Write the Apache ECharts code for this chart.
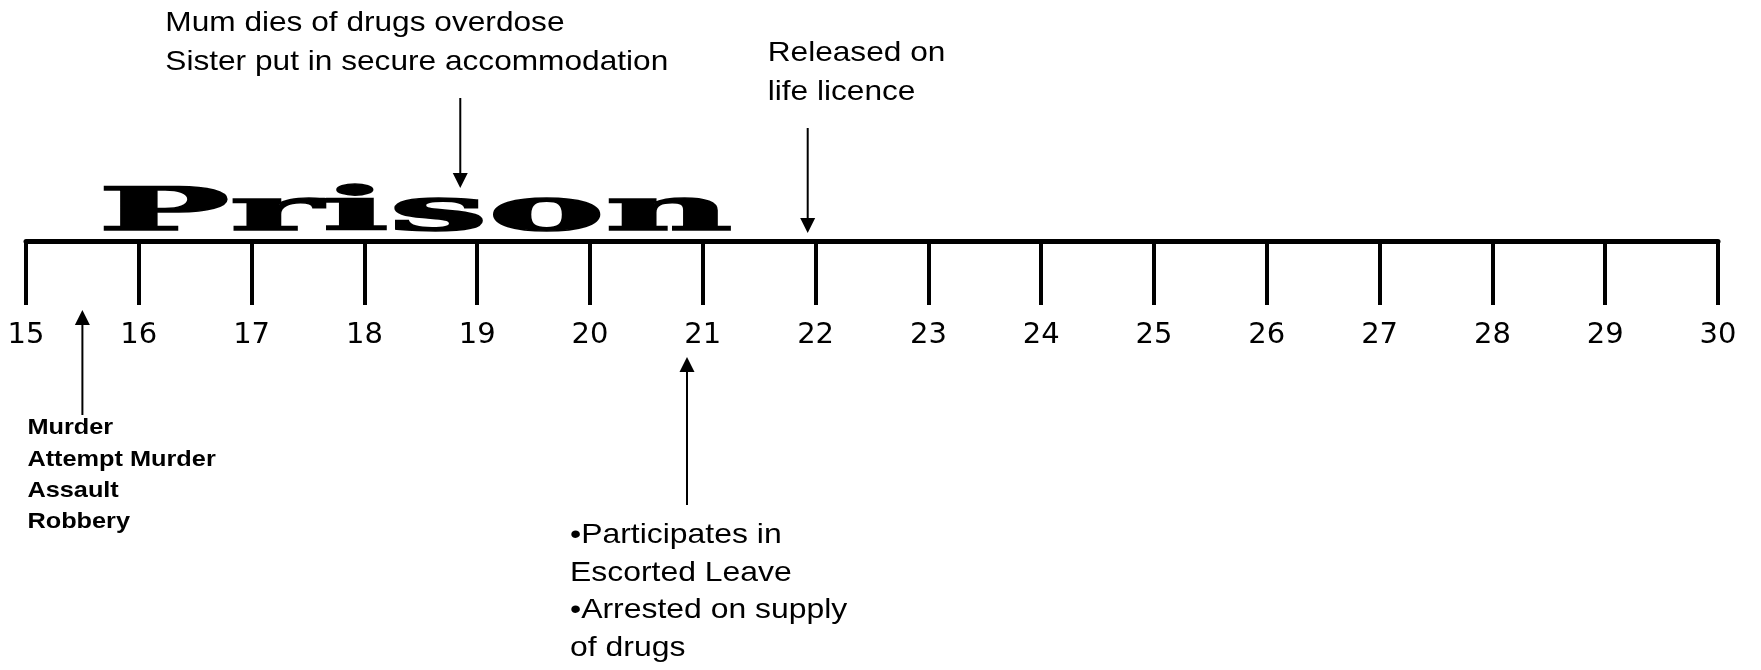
<!DOCTYPE html>
<html>
<head>
<meta charset="utf-8">
<script src="https://cdn.jsdelivr.net/npm/echarts@6/dist/echarts.min.js"></script>
<style>
html,body{margin:0;padding:0;background:#fff;}
#chart{width:1761px;height:670px;}
</style>
</head>
<body>
<div id="chart"></div>
<script>
// ---- data ----
const ageMin = 15;
const ageMax = 30;
const ageStep = 1;
const eventAges = [15.5, 18.85, 20.86, 21.93];
const eventLabels = [
  'Murder\nAttempt Murder\nAssault\nRobbery',
  'Mum dies of drugs overdose\nSister put in secure accommodation',
  '\u2022Participates in\nEscorted Leave\n\u2022Arrested on supply\nof drugs',
  'Released on\nlife licence'
];
const prisonPeriod = [15.5, 21.93];
const prisonLabel = 'Prison';

// ---- layout / style (pixel offsets relative to the axis line) ----
const eventLayout = [
  {dir: 'up',   tip: 69,  tail: 174,  dx: -55,  dy: 171.6,  size: 22, weight: 'bold',   lh: 31.3, sx: 1.15},
  {dir: 'down', tip: -53, tail: -143, dx: -295, dy: -237.3, size: 28, weight: 'normal', lh: 39,   sx: 1.13},
  {dir: 'up',   tip: 116, tail: 264,  dx: -117, dy: 275.3,  size: 28, weight: 'normal', lh: 37.7, sx: 1.14},
  {dir: 'down', tip: -8,  tail: -113, dx: -40,  dy: -207.3, size: 28, weight: 'normal', lh: 39,   sx: 1.13}
];
const prisonFont = {size: 59, family: '"DejaVu Serif"', weight: 'bold', insetLeft: 15.3, insetRight: 75, dy: -26};

function measure(text, font) {
  const c = document.createElement('canvas').getContext('2d');
  c.font = font;
  return c.measureText(text).width;
}
const prisonNatural = measure(prisonLabel, prisonFont.weight + ' ' + prisonFont.size + 'px ' + prisonFont.family);

const chart = echarts.init(document.getElementById('chart'));
chart.setOption({
  backgroundColor: '#fff',
  animation: false,
  grid: {left: 26, right: 43, top: 40, bottom: 429},
  xAxis: {
    type: 'value', min: ageMin, max: ageMax, interval: ageStep,
    position: 'bottom',
    axisLine: {show: true, lineStyle: {color: '#000', width: 5}},
    axisTick: {show: true, length: 64, lineStyle: {color: '#000', width: 4}},
    axisLabel: {color: '#000', fontFamily: '"DejaVu Sans"', fontSize: 29, margin: 80},
    splitLine: {show: false}
  },
  yAxis: {type: 'value', min: 0, max: 1, show: false},
  series: [
    {
      type: 'custom',
      clip: false,
      data: eventAges.map(a => [a, 0]),
      renderItem: function (params, api) {
        const i = params.dataIndex;
        const L = eventLayout[i];
        const p = api.coord([api.value(0), api.value(1)]);
        const x = p[0], base = p[1];
        const tipY = base + L.tip, tailY = base + L.tail;
        const s = L.dir === 'up' ? 1 : -1;
        const headBase = tipY + s * 15;
        return {
          type: 'group',
          children: [
            {type: 'line', shape: {x1: x, y1: tailY, x2: x, y2: headBase}, style: {stroke: '#000', lineWidth: 2}},
            {type: 'polygon', shape: {points: [[x, tipY], [x - 7.5, headBase], [x + 7.5, headBase]]}, style: {fill: '#000'}},
            {type: 'text', x: x + L.dx, y: base + L.dy, scaleX: L.sx,
             style: {text: eventLabels[i], x: 0, y: 0, align: 'left', verticalAlign: 'top',
                     fontFamily: '"Liberation Sans", Arial, sans-serif', fontSize: L.size, fontWeight: L.weight,
                     lineHeight: L.lh, fill: '#000'}}
          ]
        };
      }
    },
    {
      type: 'custom',
      clip: false,
      data: [[prisonPeriod[0], prisonPeriod[1]]],
      renderItem: function (params, api) {
        const p0 = api.coord([api.value(0), 0]);
        const p1 = api.coord([api.value(1), 0]);
        const left = p0[0] + prisonFont.insetLeft;
        const right = p1[0] - prisonFont.insetRight;
        return {
          type: 'text', x: left, y: p0[1] + prisonFont.dy, scaleX: (right - left) / prisonNatural,
          style: {text: prisonLabel, x: 0, y: 0, align: 'left', verticalAlign: 'middle',
                  fontFamily: prisonFont.family, fontSize: prisonFont.size, fontWeight: prisonFont.weight,
                  fill: '#000', stroke: '#000', lineWidth: 1.5}
        };
      }
    }
  ]
});
</script>
</body>
</html>
